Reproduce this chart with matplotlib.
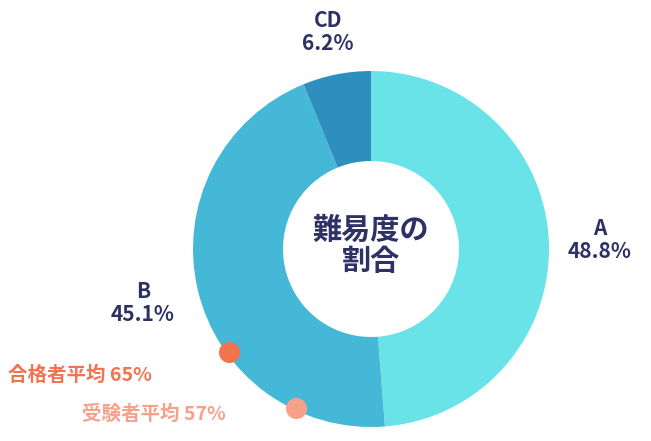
import matplotlib
matplotlib.use("Agg")
import matplotlib.pyplot as plt
import numpy as np

plt.rcParams['font.family'] = ['Noto Sans CJK JP', 'DejaVu Sans']

labels = ["A", "B", "CD"]
values = [48.8, 45.1, 6.2]
colors = ["#6ae3e8", "#44b8d6", "#2e8fbf"]
marker_labels = ["合格者平均 65%", "受験者平均 57%"]
marker_values = [65, 57]
marker_colors = ["#f4734f", "#f7a08a"]

W, H = 651, 441
fig = plt.figure(figsize=(W/100, H/100), dpi=100)
ax = fig.add_axes([0, 0, 1, 1])
ax.set_xlim(0, W); ax.set_ylim(0, H); ax.set_aspect('equal'); ax.axis('off')

cx, cy, R = 371, H-249, 178
ax.pie(values, colors=colors, startangle=90, counterclock=False, radius=R,
       center=(cx, cy), wedgeprops=dict(width=R-88, linewidth=0), frame=True)
ax.set_xlim(0, W); ax.set_ylim(0, H); ax.axis('off')

navy = "#2d3166"
ax.text(cx, H-245, "難易度の\n割合", ha='center', va='center', fontsize=21,
        fontweight='bold', color=navy, linespacing=1.05)
pos = {"A": (600, H-240), "B": (143, H-303), "CD": (328, H-32)}
for l, v in zip(labels, values):
    x, y = pos[l]
    ax.text(x, y, f"{l}\n{v}%", ha='center', va='center', fontsize=15,
            fontweight='bold', color=navy, linespacing=1.15)

for lab, v, c, tp in zip(marker_labels, marker_values, marker_colors,
                         [(8, H-375), (82, H-414)]):
    ang = np.deg2rad(90 - v/100*360)
    ax.scatter([cx + 176*np.cos(ang)], [cy + 176*np.sin(ang)], s=230, color=c, zorder=5, linewidths=0)
    ax.text(tp[0], tp[1], lab, ha='left', va='center', fontsize=14, fontweight='bold', color=c)

fig.savefig("out.png", dpi=100)
